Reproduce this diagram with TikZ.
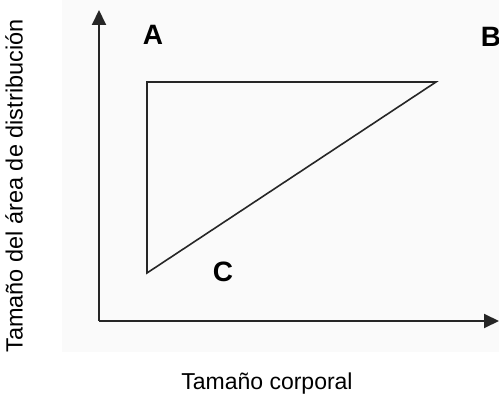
\documentclass[tikz,border=0pt]{standalone}
\usepackage{fontspec}
\setmainfont{Liberation Sans}
\usetikzlibrary{arrows.meta}
\begin{document}
\begin{tikzpicture}[x=1pt,y=-1pt,
  axis/.style={line width=2pt,draw=black!85,-{Triangle[length=15pt,width=14pt]}},
  tri/.style={line width=1.6pt,draw=black!85,line join=miter},
  corner/.style={font=\fontsize{28}{30}\selectfont\bfseries,inner sep=0pt},
  axlabel/.style={font=\fontsize{23}{26}\selectfont,inner sep=0pt}]
\useasboundingbox (0,0) rectangle (499,398);
\fill[black!2] (62,0) rectangle (499,352);
\coordinate (O) at (99,321);
\coordinate (ytip) at (99,10);
\coordinate (xtip) at (499,321);
\draw[axis] (O) -- (ytip);
\draw[axis] (O) -- (xtip);
\coordinate (a) at (147,82);
\coordinate (b) at (436,82);
\coordinate (c) at (147,273);
\draw[tri] (a) -- (b) -- (c) -- cycle;
\node[corner] (la) at (153,35) {A};
\node[corner] (lb) at (491,37) {B};
\node[corner] (lc) at (223,272) {C};
\node[axlabel] (xl) at (267,384) {Tamaño corporal};
\node[axlabel,rotate=90,font=\fontsize{23.5}{26}\selectfont] (yl) at (14,186) {Tamaño del área de distribución};
\end{tikzpicture}
\end{document}
